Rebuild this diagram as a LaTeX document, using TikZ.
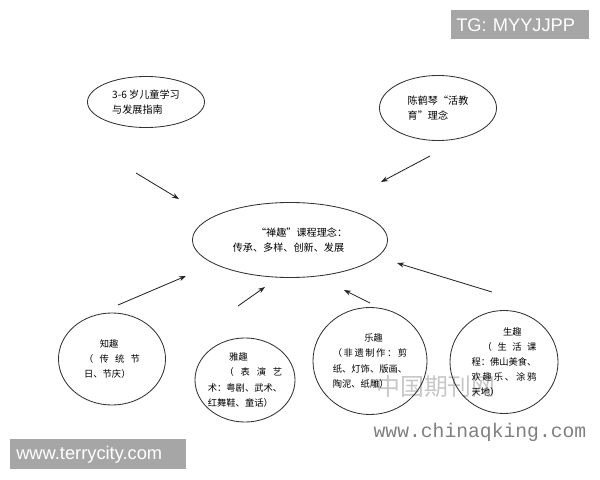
\documentclass[tikz,border=0pt]{standalone}
\usepackage{fontspec}
\setmainfont{Noto Sans CJK SC}
\newfontfamily\markfont{Liberation Sans}
\newfontfamily\wmmono{Liberation Mono}
\usepackage{tikz}
\usetikzlibrary{shapes.geometric,arrows.meta}

\begin{document}
\begin{tikzpicture}[x=0.025cm,y=-0.025cm,
ovalnode/.style={ellipse, draw=black!80, line width=0.6pt, inner sep=-2pt, align=left},
bigtext/.style={font=\fontsize{7.2}{11.2}\selectfont},
smalltext/.style={font=\fontsize{6.6}{10.8}\selectfont},
thin arrow/.style={-{Stealth[length=5pt,width=3.6pt]}, line width=0.6pt, draw=black!85},
greybox/.style={fill=black!35, text=white, font=\markfont\fontsize{13}{13}\selectfont, inner ysep=0pt, align=left, anchor=north west}
]
\useasboundingbox (0,0) rectangle (600,480);

%Watermarks
\node[text=black!22, font=\fontsize{17}{17}\selectfont] at (436,386) (wmcn) {中国期刊网};
\node[text=black!50, font=\wmmono\fontsize{14}{14}\selectfont] at (480,432) (wmurl) {www.chinaqking.com};
\node[greybox, minimum width=3.45cm, minimum height=0.725cm, inner xsep=0.125cm, text width=3.2cm] at (451,10) (tg) {TG: MYYJJPP};
\node[greybox, minimum width=4.4cm, minimum height=0.75cm, inner xsep=0.15cm, text width=4.1cm] at (10,439) (terry) {www.terrycity.com};

%Nodes
\node[ovalnode,bigtext,minimum width=2.925cm,minimum height=1.275cm] at (146,102) (guide) {3-6 岁儿童学习\\与发展指南};
\node[ovalnode,bigtext,minimum width=2.925cm,minimum height=1.625cm] at (438,108) (chen) {陈鹤琴“活教\\育”理念};
\node[ovalnode,bigtext,minimum width=4.875cm,minimum height=1.875cm] at (290,240) (idea) {\hspace*{2.3em}“禅趣”课程理念：\\传承、多样、创新、发展};

\node[ovalnode,smalltext,minimum width=2.675cm,minimum height=2.3cm] at (112,359) (zhi) {\makebox[6em][l]{\hspace*{1.7em}知趣}\\
\makebox[6em][s]{（ 传 统 节}\\
\makebox[6em][l]{日、节庆）}};
\node[ovalnode,smalltext,minimum width=2.5cm,minimum height=2.1cm] at (245,380) (ya) {\makebox[8em][l]{\hspace*{2.3em}雅趣}\\
\makebox[8em][r]{\makebox[6.2em][s]{（ 表 演 艺}}\\
\makebox[8em][l]{术：粤剧、武术、}\\
\makebox[8em][l]{红舞鞋、童话）}};
\node[ovalnode,smalltext,minimum width=2.85cm,minimum height=2.675cm] at (370,361) (le) {\makebox[8em][l]{\hspace*{3.4em}乐趣}\\
\makebox[8em][s]{（ 非 遗 制 作 ： 剪}\\
\makebox[8em][l]{纸、灯饰、版画、}\\
\makebox[8em][l]{陶泥、纸雕）}};
\node[ovalnode,smalltext,minimum width=2.7cm,minimum height=2.575cm] at (504,362) (sheng) {\makebox[7em][l]{\hspace*{3.4em}生趣}\\
\makebox[7em][r]{\makebox[5.8em][s]{（ 生 活 课}}\\
\makebox[7em][l]{程：佛山美食、}\\
\makebox[7em][s]{欢 趣 乐 、 涂 鸦}\\
\makebox[7em][l]{天地）}};

%Arrow ends
\coordinate (guide-tail) at (136,173);
\coordinate (guide-head) at (179,199);
\coordinate (chen-tail) at (430,156);
\coordinate (chen-head) at (381,182);
\coordinate (zhi-tail) at (118,305);
\coordinate (zhi-head) at (186,276);
\coordinate (ya-tail) at (238,306);
\coordinate (ya-head) at (265,287);
\coordinate (le-tail) at (370,303);
\coordinate (le-head) at (344,290);
\coordinate (sheng-tail) at (492,292);
\coordinate (sheng-head) at (397,263);

%Lines
\draw[thin arrow] (guide-tail) -- (guide-head);
\draw[thin arrow] (chen-tail) -- (chen-head);
\draw[thin arrow] (zhi-tail) -- (zhi-head);
\draw[thin arrow] (ya-tail) -- (ya-head);
\draw[thin arrow] (le-tail) -- (le-head);
\draw[thin arrow] (sheng-tail) -- (sheng-head);

\end{tikzpicture}
\end{document}
